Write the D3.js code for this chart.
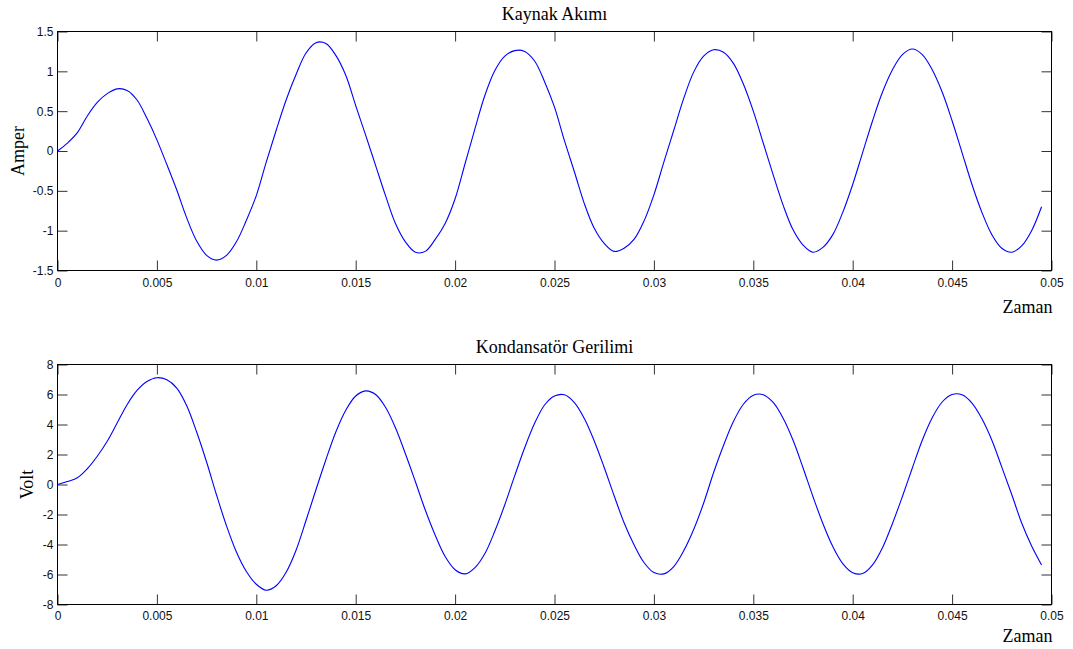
<!DOCTYPE html>
<html>
<head>
<meta charset="utf-8">
<script src="https://cdn.jsdelivr.net/npm/d3@7"></script>
<style>
  html, body { margin: 0; padding: 0; background: #fff; }
  svg { display: block; }
  .tick text { font-family: "Liberation Sans", Arial, sans-serif; font-size: 12px; fill: #111; }
  .tick line { stroke: #333; stroke-width: 1; }
  .ttl { font-family: "Liberation Serif", "Times New Roman", serif; font-size: 18px; fill: #000; }
</style>
</head>
<body>
<svg id="fig" width="1073" height="649"></svg>
<script>
// Sampling interval of the simulation (s); sample i is at time i * dt
const dt = 0.0005;

// Source current (A), one value per sample
const current = [
  0, 0.10, 0.23, 0.44, 0.61, 0.72, 0.78, 0.76, 0.64, 0.41,
  0.14, -0.17, -0.49, -0.84, -1.13, -1.31, -1.37, -1.31, -1.14, -0.87,
  -0.56, -0.14, 0.26, 0.64, 0.96, 1.23, 1.36, 1.35, 1.20, 0.95,
  0.57, 0.20, -0.18, -0.56, -0.91, -1.14, -1.27, -1.26, -1.11, -0.91,
  -0.60, -0.16, 0.28, 0.70, 1.01, 1.19, 1.26, 1.25, 1.13, 0.87,
  0.55, 0.13, -0.26, -0.66, -0.97, -1.16, -1.26, -1.22, -1.11, -0.88,
  -0.55, -0.14, 0.26, 0.66, 0.99, 1.19, 1.27, 1.24, 1.10, 0.84,
  0.50, 0.10, -0.30, -0.68, -0.99, -1.18, -1.27, -1.21, -1.05, -0.77,
  -0.42, -0.02, 0.38, 0.74, 1.02, 1.21, 1.28, 1.21, 1.02, 0.74,
  0.38, -0.02, -0.42, -0.77, -1.05, -1.22, -1.27, -1.19, -1.00, -0.70
];

// Capacitor voltage (V), one value per sample
const voltage = [
  0, 0.20, 0.45, 1.05, 1.88, 2.88, 4.10, 5.32, 6.27, 6.87,
  7.12, 6.98, 6.43, 5.25, 3.50, 1.50, -0.70, -2.75, -4.50, -5.80,
  -6.65, -7.05, -6.75, -5.85, -4.38, -2.40, -0.35, 1.65, 3.50, 4.95,
  5.90, 6.24, 6.00, 5.15, 3.78, 2.05, 0.20, -1.70, -3.38, -4.80,
  -5.68, -5.96, -5.54, -4.60, -3.10, -1.35, 0.59, 2.45, 4.08, 5.30,
  5.90, 5.98, 5.46, 4.40, 2.90, 1.13, -0.75, -2.55, -4.02, -5.20,
  -5.87, -5.96, -5.47, -4.42, -3.00, -1.25, 0.78, 2.60, 4.20, 5.35,
  5.95, 5.99, 5.47, 4.42, 2.95, 1.12, -0.80, -2.60, -4.14, -5.27,
  -5.88, -5.94, -5.36, -4.21, -2.60, -0.80, 1.10, 2.95, 4.45, 5.50,
  6.00, 5.98, 5.43, 4.38, 2.95, 1.16, -0.67, -2.57, -4.10, -5.36
];

// Tick values
const timeTicks = [0, 0.005, 0.01, 0.015, 0.02, 0.025, 0.03, 0.035, 0.04, 0.045, 0.05];
const currentTicks = [-1.5, -1, -0.5, 0, 0.5, 1, 1.5];
const voltageTicks = [-8, -6, -4, -2, 0, 2, 4, 6, 8];

const svg = d3.select("#fig");
const left = 57.5, right = 1051.5;
const tickLen = 10;

function panel(opts) {
  const { top, bottom, yDomain, yTicks, values, title, titleY, yLabel, yLabelX, xLabelY, xPad } = opts;
  const x = d3.scaleLinear().domain([0, 0.05]).range([left, right]);
  const y = d3.scaleLinear().domain(yDomain).range([bottom, top]);
  const g = svg.append("g");

  // white plot area
  g.append("rect").attr("x", left).attr("y", top)
    .attr("width", right - left).attr("height", bottom - top).attr("fill", "#fff");

  // inward ticks on all four sides, labels only bottom and left
  const fmt = d => String(+d.toFixed(4));
  g.append("g").attr("transform", `translate(0,${bottom})`)
    .call(d3.axisBottom(x).tickValues(timeTicks).tickSize(-tickLen).tickPadding(xPad).tickFormat(fmt))
    .call(a => a.select(".domain").remove());
  g.append("g").attr("transform", `translate(0,${top})`)
    .call(d3.axisTop(x).tickValues(timeTicks).tickSize(-tickLen).tickFormat(""))
    .call(a => a.select(".domain").remove());
  g.append("g").attr("transform", `translate(${left},0)`)
    .call(d3.axisLeft(y).tickValues(yTicks).tickSize(-tickLen).tickPadding(4).tickFormat(fmt))
    .call(a => a.select(".domain").remove());
  g.append("g").attr("transform", `translate(${right},0)`)
    .call(d3.axisRight(y).tickValues(yTicks).tickSize(-tickLen).tickFormat(""))
    .call(a => a.select(".domain").remove());

  // the signal, smoothed between samples
  const line = d3.line()
    .x((d, i) => x(i * dt))
    .y(d => y(d))
    .curve(d3.curveCatmullRom.alpha(0.5));
  g.append("path").datum(values)
    .attr("d", line)
    .attr("fill", "none")
    .attr("stroke", "#0000ff")
    .attr("stroke-width", 1.1)
    .attr("stroke-linejoin", "round");

  // axes box
  g.append("rect").attr("x", left).attr("y", top)
    .attr("width", right - left).attr("height", bottom - top)
    .attr("fill", "none").attr("stroke", "#000").attr("stroke-width", 1);

  // titles and labels
  g.append("text").attr("class", "ttl").attr("x", (left + right) / 2).attr("y", titleY)
    .attr("text-anchor", "middle").text(title);
  g.append("text").attr("class", "ttl")
    .attr("transform", `translate(${yLabelX},${(top + bottom) / 2}) rotate(-90)`)
    .attr("text-anchor", "middle").text(yLabel);
  g.append("text").attr("class", "ttl").attr("x", right + 1).attr("y", xLabelY)
    .attr("text-anchor", "end").text("Zaman");
}

panel({
  top: 31.5, bottom: 270.5, yDomain: [-1.5, 1.5], yTicks: currentTicks,
  values: current, title: "Kaynak Akımı", titleY: 19.5,
  yLabel: "Amper", yLabelX: 24, xLabelY: 313, xPad: 8
});

panel({
  top: 364.5, bottom: 604.5, yDomain: [-8, 8], yTicks: voltageTicks,
  values: voltage, title: "Kondansatör Gerilimi", titleY: 353,
  yLabel: "Volt", yLabelX: 33, xLabelY: 642, xPad: 7
});
</script>
</body>
</html>
